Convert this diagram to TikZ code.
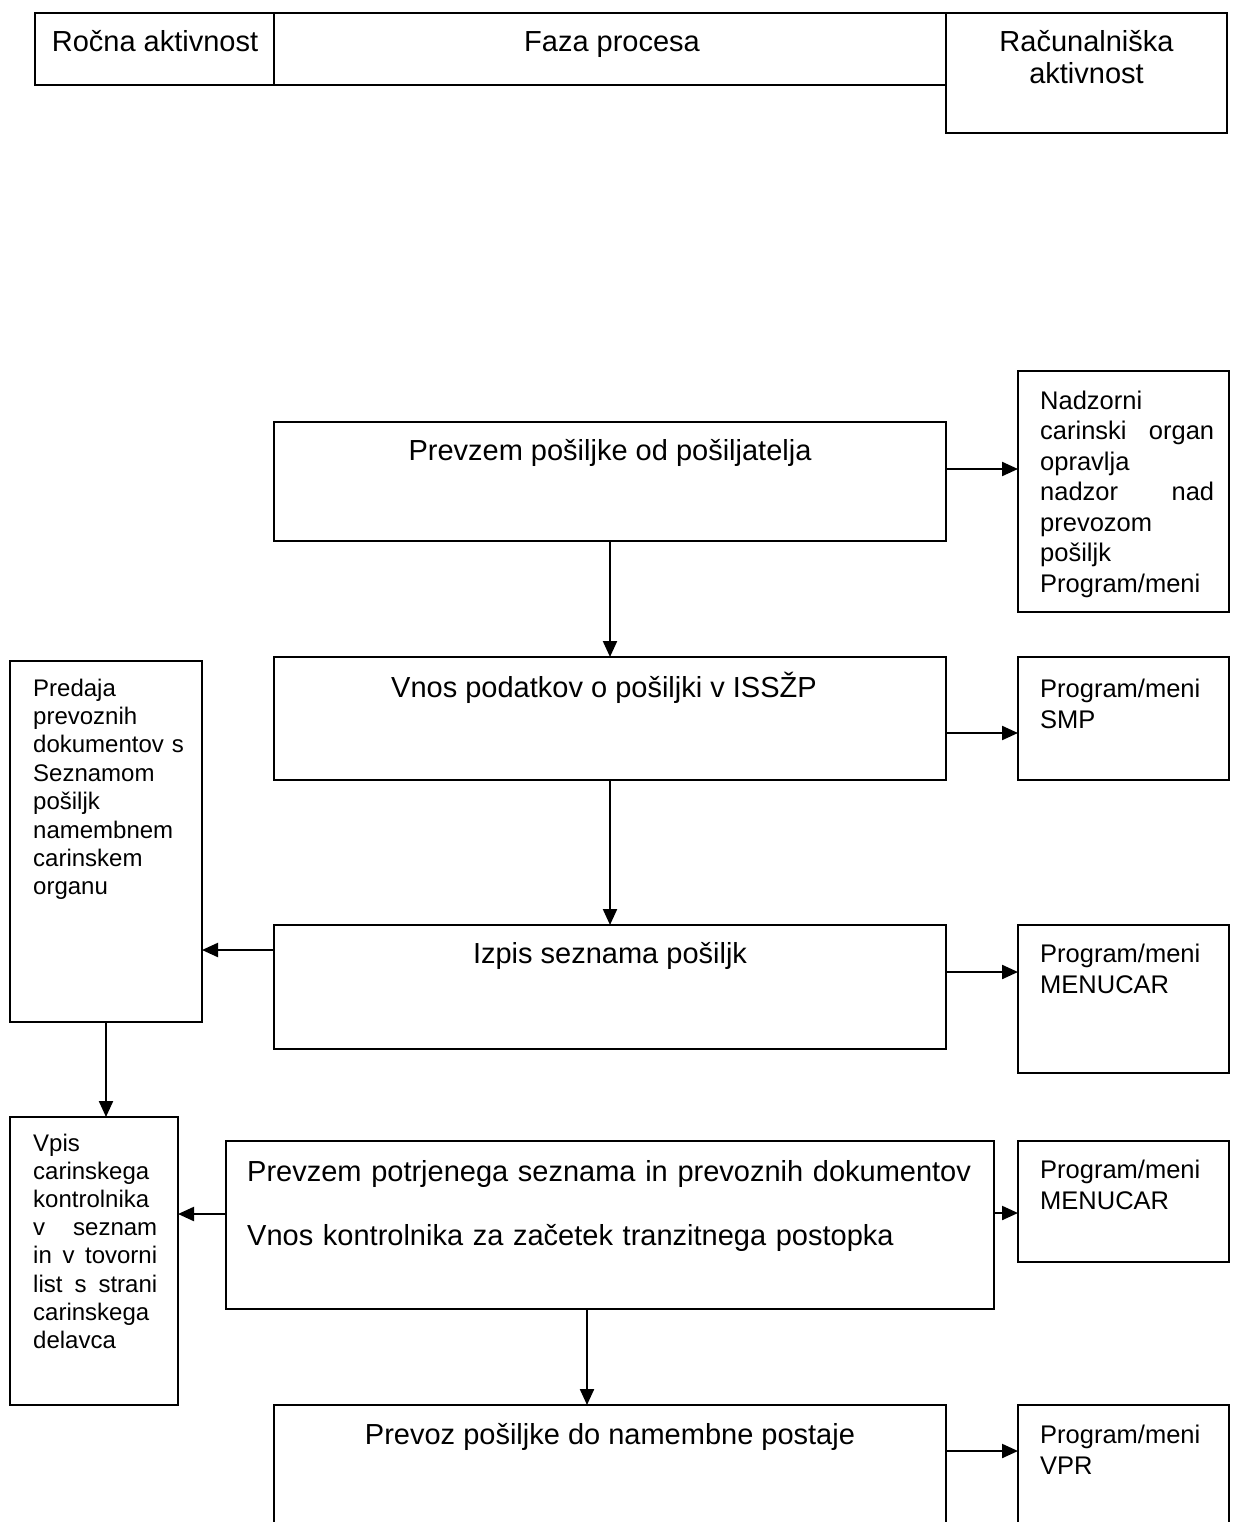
\documentclass[tikz,border=0pt]{standalone}
\usepackage{fontspec}
\setmainfont{Liberation Sans}
\usetikzlibrary{arrows.meta}
\begin{document}
\begin{tikzpicture}[x=1pt,y=-1pt,
 box/.style={draw, line width=2.2pt, anchor=north west, inner sep=0pt, outer sep=0pt},
 arr/.style={line width=2.2pt, -{Triangle[length=16pt,width=14pt]}},
 main/.style={font=\fontsize{29}{34}\selectfont, inner sep=0pt, anchor=base},
 side/.style={font=\fontsize{25.5}{31}\selectfont, inner sep=0pt, anchor=base west, text width=176pt, align=left},
 lft/.style={font=\fontsize{24}{28.4}\selectfont, inner sep=0pt, anchor=base west, align=left}
]
\useasboundingbox (0,0) rectangle (1232,1522);
\clip (0,0) rectangle (1232,1522);

% header
\node[box, minimum width=239pt, minimum height=72pt] (hL) at (35,13) {};
\node[box, minimum width=672pt, minimum height=72pt] (hM) at (274,13) {};
\node[box, minimum width=281pt, minimum height=120pt] (hR) at (946,13) {};
\node[main] (tL) at (155,52) {Ročna aktivnost};
\node[main] (tM) at (612,52) {Faza procesa};
\node[main, font=\fontsize{29}{32}\selectfont, text width=270pt, align=center] (tR) at (1086.5,52) {Računalniška\\aktivnost};

% boxes
\node[box, minimum width=672pt, minimum height=119pt] (A) at (274,422) {};
\node[box, minimum width=211pt, minimum height=241pt] (AR) at (1018,371) {};
\node[box, minimum width=672pt, minimum height=123pt] (B) at (274,657) {};
\node[box, minimum width=211pt, minimum height=123pt] (BR) at (1018,657) {};
\node[box, minimum width=672pt, minimum height=124pt] (C) at (274,925) {};
\node[box, minimum width=211pt, minimum height=148pt] (CR) at (1018,925) {};
\node[box, minimum width=192pt, minimum height=361pt] (CL) at (10,661) {};
\node[box, minimum width=168pt, minimum height=288pt] (DL) at (10,1117) {};
\node[box, minimum width=768pt, minimum height=168pt] (D) at (226,1141) {};
\node[box, minimum width=211pt, minimum height=121pt] (DR) at (1018,1141) {};
\node[box, minimum width=672pt, minimum height=160pt] (E) at (274,1405) {};
\node[box, minimum width=211pt, minimum height=160pt] (ER) at (1018,1405) {};

% texts
\node[main] (tA) at (610,460) {Prevzem pošiljke od pošiljatelja};
\node[main] (tB) at (604,697) {Vnos podatkov o pošiljki v ISSŽP};
\node[main] (tC) at (610,963) {Izpis seznama pošiljk};
\node[main, anchor=base west, font=\fontsize{29}{64}\selectfont, text width=740pt, align=left] (tD) at (247,1181)
  {Prevzem potrjenega seznama in prevoznih dokumentov\\Vnos kontrolnika za začetek tranzitnega postopka};
\node[main] (tE) at (610,1444) {Prevoz pošiljke do namembne postaje};

\node[side, font=\fontsize{25.5}{30.5}\selectfont, text width=174pt] (tAR) at (1040,409)
  {Nadzorni\\carinski\hfill organ\\opravlja\\nadzor\hfill nad\\prevozom\\pošiljk\\Program/meni};
\node[side] (tBR) at (1040,697) {Program/meni\\SMP};
\node[side] (tCR) at (1040,962) {Program/meni\\MENUCAR};
\node[side] (tDR) at (1040,1178) {Program/meni\\MENUCAR};
\node[side] (tER) at (1040,1443) {Program/meni\\VPR};

\node[lft, text width=165pt] (tCL) at (33,696)
  {Predaja\\prevoznih\\dokumentov s\\Seznamom\\pošiljk\\namembnem\\carinskem\\organu};
\node[lft, text width=124pt, font=\fontsize{24}{28.2}\selectfont] (tDL) at (33,1151)
  {Vpis\\carinskega\\kontrolnika\\v\hfill seznam\\in\hfill v\hfill tovorni\\list\hfill s\hfill strani\\carinskega\\delavca};

% connectors
\draw[arr] ([yshift=12.5pt]A.east) -- ([yshift=12.5pt]A.east -| AR.west);
\draw[arr] (A.south) -- (B.north);
\draw[arr] ([yshift=-14.5pt]B.east) -- ([yshift=-14.5pt]B.east -| BR.west);
\draw[arr] (B.south) -- (C.north);
\draw[arr] ([yshift=15pt]C.east) -- ([yshift=15pt]C.east -| CR.west);
\draw[arr] ([yshift=37pt]C.west) -- ([yshift=37pt]C.west -| CL.east);
\draw[arr] (CL.south) -- (CL.south |- DL.north);
\draw[arr] ([yshift=11pt]D.west) -- ([yshift=11pt]D.west -| DL.east);
\draw[arr] ([yshift=12pt]D.east) -- ([yshift=12pt]D.east -| DR.west);
\draw[arr] ([xshift=-23pt]D.south) -- ([xshift=-23pt]D.south |- E.north);
\draw[arr] ([yshift=34pt]E.east) -- ([yshift=34pt]E.east -| ER.west);
\end{tikzpicture}
\end{document}
